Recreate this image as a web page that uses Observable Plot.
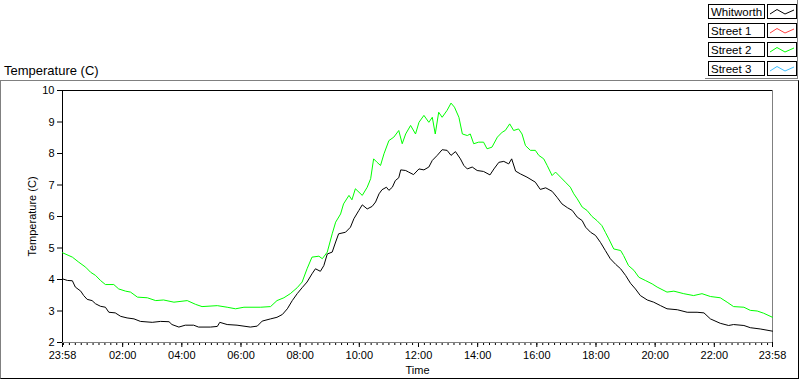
<!DOCTYPE html>
<html>
<head>
<meta charset="utf-8">
<script src="https://cdn.jsdelivr.net/npm/d3@7"></script>
<script src="https://cdn.jsdelivr.net/npm/@observablehq/plot@0.6"></script>
<style>
  html, body { margin: 0; padding: 0; background: #fff; }
  body { width: 800px; height: 380px; position: relative; overflow: hidden; font-family: "Liberation Sans", Arial, sans-serif; }
  #title { position: absolute; left: 4px; top: 63px; font-size: 13px; line-height: 15px; }
  #panel { position: absolute; left: 0; top: 80px; width: 797px; height: 297px; border-top: 1px solid #808080; border-left: 1px solid #808080; border-right: 1px solid #000; border-bottom: 1px solid #000; }
  #chart { position: absolute; left: 0; top: 81px; }
  #legend { position: absolute; left: 705px; top: 0; width: 92px; height: 78px; border-right: 1px solid #808080; border-bottom: 1px solid #808080; }
  .row { position: absolute; left: 3px; height: 15px; }
  .lab { position: absolute; left: 0; top: 0; width: 53px; height: 13px; border: 1px solid #000; font-size: 11.5px; line-height: 14px; padding-left: 2px; box-sizing: content-box; white-space: nowrap; overflow: hidden; }
  .sw { position: absolute; left: 59px; top: 0; width: 28px; height: 13px; border: 1px solid #000; }
</style>
</head>
<body>
<div id="title">Temperature (C)</div>
<div id="panel"></div>
<div id="chart"></div>
<div id="legend"></div>
<script>
// ---- data ----
const seriesNames = ["Whitworth", "Street 1", "Street 2", "Street 3"];
const seriesColors = ["#000000", "#ff4040", "#00ff00", "#40c0ff"];

const xTickLabels = ["23:58","02:00","04:00","06:00","08:00","10:00","12:00","14:00","16:00","18:00","20:00","22:00","23:58"];
const yTicks = [2, 3, 4, 5, 6, 7, 8, 9, 10];

const whitworthTime = ["23:58","00:08","00:18","00:24","00:35","00:41","00:48","00:58","01:05","01:15","01:25","01:32","01:45","01:56","02:09","02:23","02:36","03:00","03:17","03:34","03:40","03:54","04:07","04:24","04:34","04:58","05:12","05:17","05:32","05:52","06:19","06:33","06:43","07:00","07:13","07:24","07:34","07:44","07:54","08:04","08:14",
"08:24","08:31","08:41","08:48","08:55","09:05","09:12","09:18","09:32","09:42","09:49","09:59","10:06","10:16","10:26","10:33","10:40","10:46","10:55","11:00","11:07","11:13","11:20","11:24","11:34","11:40","11:50","12:01","12:11","12:21","12:28","12:38","12:48","12:58","13:06","13:15","13:25","13:32","13:39","13:49","13:59","14:12","14:25","14:33","14:43","14:53","15:03","15:09","15:17","15:27","15:40","15:57","16:07","16:18",
"16:31","16:41","16:51","17:02","17:12","17:22","17:32","17:39","17:49","17:59","18:09","18:19","18:29","18:40","18:50","19:00","19:10","19:20","19:30","19:44","19:57","20:11","20:24","20:45","21:05","21:25","21:39","21:52","22:12","22:29","22:39","23:00","23:13","23:33","23:58"];
const whitworthTemp = [4.02,3.97,3.96,3.76,3.63,3.49,3.37,3.33,3.23,3.15,3.12,2.96,2.94,2.83,2.78,2.75,2.67,2.64,2.67,2.66,2.57,2.49,2.55,2.55,2.49,2.49,2.51,2.64,2.57,2.55,2.49,2.52,2.68,2.75,2.80,2.89,3.07,3.33,3.55,3.74,3.92,
4.18,4.34,4.26,4.44,4.81,4.87,5.19,5.45,5.50,5.66,5.93,6.19,6.37,6.24,6.32,6.46,6.72,6.85,6.93,6.83,6.93,7.14,7.23,7.48,7.46,7.41,7.33,7.51,7.48,7.57,7.78,7.94,8.12,8.10,7.94,8.06,7.83,7.62,7.51,7.57,7.46,7.43,7.32,7.51,7.72,7.75,7.67,7.83,7.44,7.35,7.25,7.09,6.86,6.91,
6.80,6.61,6.40,6.28,6.19,5.98,5.87,5.66,5.50,5.40,5.18,4.92,4.66,4.48,4.34,4.13,3.88,3.70,3.49,3.35,3.28,3.17,3.07,3.04,2.96,2.96,2.94,2.75,2.61,2.54,2.57,2.54,2.47,2.43,2.36];

const street2Time = ["23:58","00:18","00:31","00:45","00:55","01:05","01:15","01:25","01:42","01:52","02:06","02:16","02:30","02:50","03:07","03:23","03:44","04:11","04:28","04:41","05:12","05:32","05:49","06:06","06:40","07:00","07:13","07:27","07:40","07:54","08:04","08:14",
"08:24","08:38","08:45","08:55","09:05","09:12","09:22","09:28","09:39","09:45","09:52","10:06","10:16","10:23","10:29","10:36","10:43","10:50","11:00","11:10","11:20","11:27","11:34","11:44","11:54","12:01","12:11","12:21","12:28","12:34","12:41","12:48","12:58","13:06","13:13","13:22","13:29","13:39","13:45","13:52","14:02","14:12","14:19","14:29","14:40","14:50","14:56","15:05","15:13","15:23","15:30","15:37","15:47","15:57","16:04","16:14",
"16:21","16:31","16:38","16:48","16:58","17:08","17:15","17:22","17:32","17:42","17:52","18:02","18:12","18:19","18:26","18:36","18:50","18:56","19:06","19:17","19:27","19:40","19:54","20:04","20:24","20:38","20:58","21:18","21:35","21:52","22:12","22:26","22:39","23:00","23:13","23:27","23:40","23:58"];
const street2Temp = [4.85,4.71,4.55,4.39,4.23,4.13,3.97,3.84,3.84,3.70,3.63,3.60,3.44,3.42,3.33,3.35,3.28,3.33,3.21,3.14,3.17,3.12,3.07,3.12,3.12,3.14,3.33,3.42,3.55,3.74,3.92,4.34,
4.71,4.74,4.66,4.87,5.45,5.82,6.08,6.40,6.67,6.53,6.88,6.67,6.93,7.20,7.83,7.72,7.62,7.99,8.41,8.52,8.73,8.31,8.62,8.89,8.62,8.99,9.21,8.99,9.15,8.62,9.31,9.15,9.37,9.60,9.47,9.15,8.62,8.57,8.62,8.31,8.36,8.36,8.15,8.20,8.52,8.68,8.73,8.94,8.73,8.78,8.62,8.25,8.10,8.10,7.94,7.83,
7.62,7.30,7.41,7.25,7.09,6.93,6.72,6.56,6.30,6.19,6.00,5.87,5.71,5.50,5.29,4.97,4.92,4.76,4.44,4.29,4.07,3.97,3.86,3.76,3.60,3.63,3.55,3.49,3.55,3.46,3.42,3.28,3.14,3.12,3.02,3.00,2.93,2.80];

// ---- helpers ----
// first entry of each list is 23:58 of the previous day; all others belong to the following day
function toDate(s, i) {
  const [h, m] = s.split(":").map(Number);
  return new Date(Date.UTC(2000, 0, i === 0 ? 1 : 2, h, m));
}
const start = toDate("23:58", 0);
const end = toDate("23:58", 1);

const whitworth = whitworthTime.map((t, i) => ({time: toDate(t, i), temp: whitworthTemp[i]}));
const street2 = street2Time.map((t, i) => ({time: toDate(t, i), temp: street2Temp[i]}));

const majorTicks = xTickLabels.map((t, i) => toDate(t, i));
const labelByTime = new Map(majorTicks.map((d, i) => [+d, xTickLabels[i]]));
const minorTicks = d3.utcMinute.every(12).range(new Date(Date.UTC(2000, 0, 2, 0, 0)), end);

const chart = Plot.plot({
  width: 800,
  height: 296,
  marginTop: 9,
  marginLeft: 62,
  marginRight: 28,
  marginBottom: 35,
  style: {fontFamily: "'Liberation Sans', Arial, sans-serif", fontSize: "11px", background: "transparent", color: "#000", overflow: "visible"},
  x: {type: "utc", domain: [start, end]},
  y: {domain: [2, 10]},
  marks: [
    Plot.axisY({ticks: yTicks, tickSize: 5, tickPadding: 3, tickFormat: d => String(d),
      label: "Temperature (C)", labelAnchor: "center", labelOffset: 34, labelArrow: "none"}),
    Plot.axisX({ticks: minorTicks, tickSize: 3, tickFormat: () => "", label: null}),
    Plot.axisX({ticks: majorTicks, tickSize: 5, tickPadding: 4, tickFormat: d => labelByTime.get(+d),
      label: "Time", labelAnchor: "center", labelOffset: 31, labelArrow: "none"}),
    Plot.ruleY([2], {stroke: "#808080"}),
    Plot.ruleX([end], {stroke: "#808080"}),
    Plot.ruleY([10], {stroke: "#000"}),
    Plot.ruleX([start], {stroke: "#000"}),
    Plot.line(whitworth, {x: "time", y: "temp", stroke: seriesColors[0], strokeWidth: 1}),
    Plot.line(street2, {x: "time", y: "temp", stroke: seriesColors[2], strokeWidth: 1})
  ]
});
document.getElementById("chart").appendChild(chart);

// ---- legend ----
const legend = document.getElementById("legend");
seriesNames.forEach((name, i) => {
  const row = document.createElement("div");
  row.className = "row";
  row.style.top = (4 + i * 19) + "px";
  row.innerHTML = `<div class="lab">${name}</div>
    <div class="sw"><svg width="28" height="13"><polyline points="2,8 9,3.5 17,8 26,4" fill="none" stroke="${seriesColors[i]}" stroke-width="1"/></svg></div>`;
  legend.appendChild(row);
});
</script>
</body>
</html>
